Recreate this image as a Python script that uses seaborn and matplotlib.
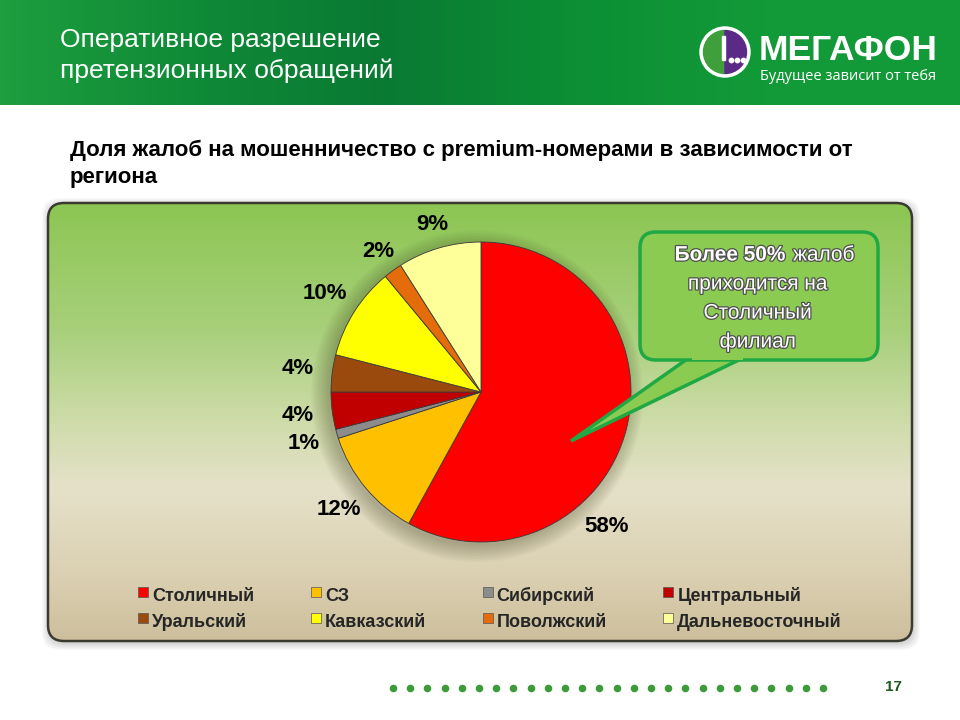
import numpy as np
import matplotlib
matplotlib.use("Agg")
import matplotlib.pyplot as plt
import matplotlib.patches as mpatches
import matplotlib.patheffects as pe
from matplotlib.lines import Line2D
from matplotlib.colors import LinearSegmentedColormap
import seaborn as sns

# data
regions = ["Столичный", "СЗ", "Сибирский", "Центральный",
           "Уральский", "Кавказский", "Поволжский", "Дальневосточный"]
shares = [58, 12, 1, 4, 4, 10, 2, 9]
region_colors = ["#ff0000", "#ffc000", "#8c8c8c", "#c00000",
                 "#9a4a0c", "#ffff00", "#e46c0a", "#ffff99"]

title_lines = ["Оперативное разрешение", "претензионных обращений"]
subtitle_lines = ["Доля жалоб на мошенничество с premium-номерами в зависимости от",
                  "региона"]
callout_lines = ["приходится на", "Столичный", "филиал"]

sns.set_theme(style="white")
plt.rcParams["font.family"] = ["Liberation Sans", "DejaVu Sans"]
palette = sns.color_palette(region_colors)

W, H = 960, 720
fig = plt.figure(figsize=(9.6, 7.2), dpi=100)


def pixel_axes():
    ax = fig.add_axes([0, 0, 1, 1])
    ax.set_xlim(0, W)
    ax.set_ylim(H, 0)
    ax.axis("off")
    ax.patch.set_alpha(0)
    return ax


bg = pixel_axes()

# header band
hdr = LinearSegmentedColormap.from_list("hdr", ["#1e9e3f", "#0f8a37", "#0a7a33", "#0c8f35", "#139a38", "#139a38"])
bg.imshow(np.linspace(0, 1, 256)[None, :], cmap=hdr, extent=[0, W, 105, 0], aspect="auto", zorder=0)
for i, line in enumerate(title_lines):
    bg.text(60, 40 + i * 31, line, color="white", fontsize=19, va="center", ha="left", zorder=2)

# logo
bg.add_patch(mpatches.Circle((725, 52), 25, color="white", zorder=2))
bg.add_patch(mpatches.Wedge((725, 52), 21.5, 90, 270, color="#3f9f3a", zorder=3))
bg.add_patch(mpatches.Wedge((725, 52), 21.5, -90, 90, color="#5b2a86", zorder=3))
bg.add_patch(mpatches.Rectangle((722, 36), 3, 24, color="white", zorder=4))
bg.scatter([731, 737, 743], [60, 60, 60], s=10, color="white", zorder=4)
bg.text(759, 50, "МЕГАФОН", color="white", fontsize=25.5, fontweight="bold", va="center", ha="left", zorder=2)
bg.text(760, 76, "Будущее зависит от тебя", color="white", fontsize=10.5, family=["Open Sans", "DejaVu Sans"],
        va="center", ha="left", zorder=2)

# subtitle
for i, line in enumerate(subtitle_lines):
    bg.text(70, 150 + i * 27, line, color="black", fontsize=16, fontweight="bold", va="center", ha="left", zorder=2)

# panel shadow + gradient panel
px0, py0, px1, py1 = 48, 203, 912, 641
for k in range(8, 0, -1):
    bg.add_patch(mpatches.FancyBboxPatch((px0 - k + 2, py0 - k + 3), px1 - px0 + 2 * k - 2, py1 - py0 + 2 * k - 2,
                                         boxstyle="round,pad=0,rounding_size=18", color="#000000",
                                         alpha=0.025, lw=0, zorder=1))
panel = mpatches.FancyBboxPatch((px0, py0), px1 - px0, py1 - py0, boxstyle="round,pad=0,rounding_size=16",
                                facecolor="none", edgecolor="#3a3a30", lw=1.8, zorder=4)
bg.add_patch(panel)
pcm = LinearSegmentedColormap.from_list("panel", [(0, "#8cc653"), (0.3, "#a9d07c"), (0.5, "#cfdcaa"),
                                                  (0.65, "#e5e1c9"), (0.85, "#dbd0b2"), (1, "#cdbf9c")])
img = bg.imshow(np.linspace(0, 1, 256)[:, None], cmap=pcm, extent=[px0, px1, py1, py0], aspect="auto", zorder=2)
img.set_clip_path(panel)

# soft shadow behind pie
for k in range(12, 0, -1):
    bg.add_patch(mpatches.Circle((477, 396), 148 + k * 1.5, color="#4a4a25", alpha=0.03, lw=0, zorder=3))

# pie
pax = fig.add_axes([331 / W, (H - 542) / H, 300 / W, 300 / H])
wedges, _ = pax.pie(shares, colors=palette, startangle=90, counterclock=False,
                    wedgeprops=dict(edgecolor="#3a3a3a", linewidth=0.6))
pax.set_xlim(-1, 1)
pax.set_ylim(-1, 1)
pax.axis("off")

angle_override = {0: -47}
for i, (w, v) in enumerate(zip(wedges, shares)):
    ang = np.deg2rad(angle_override.get(i, (w.theta1 + w.theta2) / 2))
    r = 1.16 if v in (2, 9) else 1.23
    pax.text(r * np.cos(ang), r * np.sin(ang), f"{v}%", fontsize=16, fontweight="bold",
             ha="center", va="center", color="black")

# legend: square markers in tall handle boxes so both rows line up
order = [0, 4, 1, 5, 2, 6, 3, 7]
handles = [Line2D([], [], marker="s", linestyle="none", markersize=7, markerfacecolor=palette[i],
                  markeredgecolor="#555", markeredgewidth=0.5) for i in order]
leg = fig.legend(handles, [regions[i] for i in order], ncol=4, loc="center", bbox_to_anchor=(490 / W, 1 - 608 / H),
                 frameon=False, prop=dict(weight="bold", size=13), handlelength=0.6, handleheight=1.5,
                 handletextpad=0.2, columnspacing=3.1, labelspacing=0.22)

# callout, above the pie
top = pixel_axes()
cx0, cy0, cx1, cy1 = 640, 232, 878, 360
top.add_patch(mpatches.Polygon([(690, cy1 - 3), (745, cy1 - 3), (571, 441)], closed=True,
                               facecolor="#8ccb52", edgecolor="#1fa843", lw=2.5, zorder=5))
top.add_patch(mpatches.FancyBboxPatch((cx0, cy0), cx1 - cx0, cy1 - cy0, boxstyle="round,pad=0,rounding_size=16",
                                      facecolor="#8ccb52", edgecolor="#1fa843", lw=2.5, zorder=6))
top.add_patch(mpatches.Rectangle((692, cy1 - 6), 51, 6, color="#8ccb52", lw=0, zorder=7))
outline = [pe.withStroke(linewidth=1.8, foreground="#505050")]
top.text(786, 255, "Более 50%", color="white", fontsize=15, fontweight="bold", ha="right", va="center",
         path_effects=outline, zorder=8)
top.text(793, 255, "жалоб", color="white", fontsize=15, ha="left", va="center", path_effects=outline, zorder=8)
for i, line in enumerate(callout_lines):
    top.text(758, 284 + i * 29, line, color="white", fontsize=15, ha="center", va="center",
             path_effects=outline, zorder=8)

# footer dots and page number
top.scatter(np.linspace(393, 823, 26), np.full(26, 688), s=30, color="#3d9b3a", lw=0, zorder=2)
top.text(893, 687, "17", color="#1d5a1d", fontsize=11, fontweight="bold", ha="center", va="center")

fig.savefig("out.png", dpi=100)
